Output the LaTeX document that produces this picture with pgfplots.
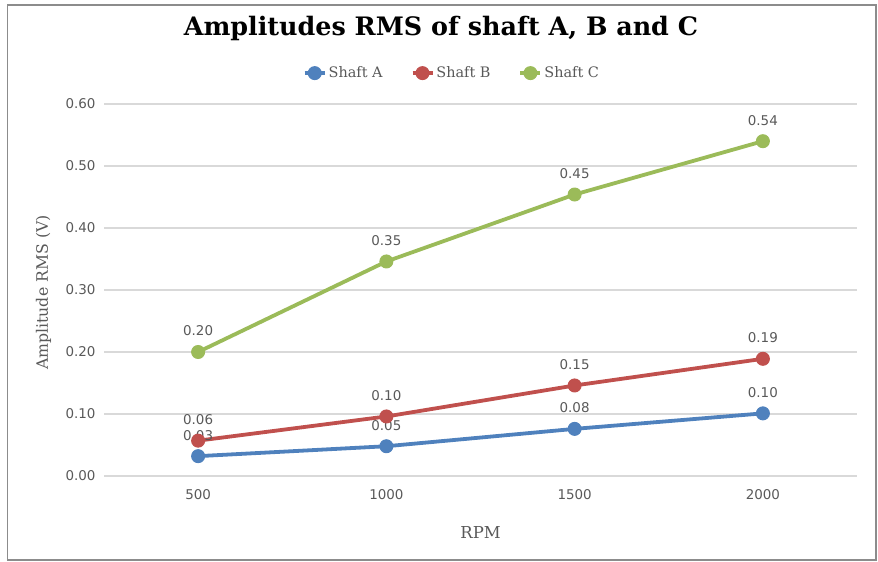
\documentclass[border=0pt]{standalone}
\usepackage{pgfplots}
\pgfplotsset{compat=1.18}
\usepackage{fontspec}
\setmainfont{DejaVu Serif}
\newfontfamily\numfont{DejaVu Sans}
\definecolor{cA}{HTML}{4F81BD}
\definecolor{cB}{HTML}{C0504D}
\definecolor{cC}{HTML}{9BBB59}
\definecolor{txt}{HTML}{595959}
\definecolor{gridc}{HTML}{D9D9D9}
\definecolor{framec}{HTML}{8C8C8C}
\begin{document}
\begin{tikzpicture}[x=1bp,y=1bp]
\path[use as bounding box] (0,0) rectangle (878,562);
\draw[color=framec, line width=1.5bp] (7.5,557) rectangle (876,2);
\begin{axis}[
  at={(104bp,86bp)}, anchor=south west, scale only axis,
  width=753bp, height=372bp,
  xmin=250, xmax=2250, ymin=0, ymax=0.6,
  xtick={500,1000,1500,2000}, xticklabels={500,1000,1500,2000},
  ytick={0,0.1,0.2,0.3,0.4,0.5,0.6},
  scaled y ticks=false,
  ymajorgrids, grid style={color=gridc, line width=1.3bp},
  axis line style={draw=none}, major tick length=0pt,
  /pgf/number format/assume math mode=true,
  tick label style={font=\numfont\fontsize{13.5}{15}\selectfont, color=txt},
  yticklabel style={/pgf/number format/.cd, fixed, fixed zerofill, precision=2, /tikz/.cd, xshift=-5bp},
  xticklabel style={yshift=-10bp},
  xlabel={RPM}, ylabel={Amplitude RMS (V)},
  xlabel style={at={(axis description cs:0.5,-0.1667)}, anchor=base, font=\fontsize{16.5}{18}\selectfont, color=txt},
  ylabel style={at={(axis description cs:-0.0744,0.493)}, anchor=base, rotate=0, font=\fontsize{15.8}{17}\selectfont, color=txt},
  title={Amplitudes RMS of shaft A, B and C},
  title style={at={(axis description cs:0.4475,1.167)}, anchor=base, font=\fontsize{25.5}{28}\selectfont\bfseries, color=black},
  legend columns=3,
  legend style={at={(axis description cs:0.462,1.083)}, anchor=center, draw=none, fill=none,
    font=\fontsize{14.5}{16}\selectfont, text=txt,
    /tikz/every even column/.append style={column sep=26bp}},
  legend image code/.code={\draw[#1, mark repeat=2, mark phase=2] plot coordinates {(0bp,0bp) (10bp,0bp) (20bp,0bp)};},
  nodes near coords,
  point meta=y,
  nodes near coords style={font=\numfont\fontsize{13.5}{15}\selectfont, color=txt, anchor=south, yshift=12bp,
     /pgf/number format/.cd, fixed, fixed zerofill, precision=2},
  every axis plot/.append style={line width=3.8bp, mark=*, mark size=6.5bp},
]
\addplot[color=cA, mark options={solid, line width=1bp, fill=cA, draw=cA}] coordinates {(500,0.032) (1000,0.048) (1500,0.076) (2000,0.101)};
\addlegendentry{Shaft A}
\addplot[color=cB, mark options={solid, line width=1bp, fill=cB, draw=cB}] coordinates {(500,0.057) (1000,0.096) (1500,0.146) (2000,0.189)};
\addlegendentry{Shaft B}
\addplot[color=cC, mark options={solid, line width=1bp, fill=cC, draw=cC}] coordinates {(500,0.200) (1000,0.346) (1500,0.454) (2000,0.540)};
\addlegendentry{Shaft C}
\end{axis}
\end{tikzpicture}
\end{document}
